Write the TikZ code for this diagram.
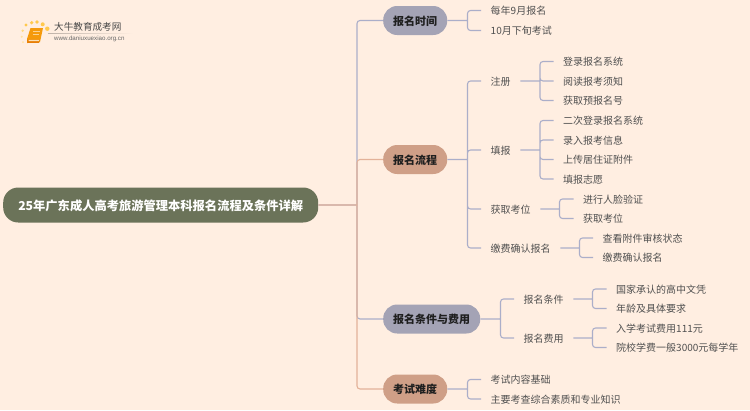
\documentclass[tikz,border=0pt]{standalone}
\usepackage{fontspec}
\setmainfont{Noto Sans CJK SC}
\newfontfamily\latinurl{Liberation Sans}
\definecolor{bgc}{HTML}{FFEEE1}
\definecolor{rootc}{HTML}{6B7359}
\definecolor{lilacc}{HTML}{A4A3B5}
\definecolor{salmonc}{HTML}{CF9F87}
\definecolor{lilacl}{HTML}{ABAEC9}
\definecolor{salmonl}{HTML}{E3B299}
\definecolor{txtc}{HTML}{505050}
\definecolor{bookc}{HTML}{F59A0C}
\definecolor{bookd}{HTML}{E87E04}
\tikzset{
  rootnode/.style={fill=rootc,text=white,rounded corners=15pt,minimum height=35pt,minimum width=315pt,inner sep=0pt,text height=11.2pt,text depth=1.1pt,font=\fontsize{12.27}{15}\selectfont\bfseries,anchor=west},
  topic/.style={rounded corners=14pt,minimum height=29pt,inner xsep=0pt,inner ysep=0pt,text height=10.3pt,text depth=.7pt,font=\fontsize{11}{13}\selectfont\bfseries,text=black!88,anchor=west},
  leaf/.style={inner xsep=9.5pt,inner ysep=1pt,text height=9.4pt,text depth=.6pt,font=\fontsize{10}{12}\selectfont,text=txtc,anchor=west},
  lil/.style={draw=lilacl,line width=1.1pt,rounded corners=3pt},
  sal/.style={draw=salmonl,line width=1.1pt,rounded corners=3pt}
}
% parent, x of the vertical, style, children: one path, so that the shared stub is painted once
\newcommand{\fanout}[4]{\coordinate (vv) at (#2,0);\draw[#3] (#1.east) -- (#1.east -| vv) foreach \k in {#4}{ (#1.east -| vv) |- (\k.west) };}
\begin{document}
\begin{tikzpicture}[x=1pt,y=-1pt]
\useasboundingbox[fill=bgc] (0,0) rectangle (750,410);
% logo
\foreach \p/\q/\r/\c in {26/25/1.6/FFC94D,31.7/22.7/1.8/FFC94D,37/22/1.9/FFC94D,42.7/24.3/2/FFC94D,47.3/28.7/2.2/FFC94D,22.7/30.7/1.3/FFD97F,21.7/36.7/1.1/FFE2A0,23/42/1/FFE2A0}{
  \definecolor{tmpc}{HTML}{\c}\fill[tmpc] (\p,\q) circle (\r);}
\fill[bookc] (30.5,28) -- (43,28) -- (40,42) .. controls (38,43) and (33,43) .. (27,43) -- (27,39) -- cycle;
\fill[bookd] (27,39.5) -- (39.5,39.5) -- (39,42.8) -- (27.5,42.8) -- cycle;
\fill[white!70!bookc] (28.5,39.8) -- (39,39.8) -- (38.8,41) -- (28.5,41) -- cycle;
\draw[white!55!bookc,line width=.6pt] (33,31.5) -- (40,31.5) (32.5,34.5) -- (39,34.5);
\node[inner sep=0pt,anchor=west,text=black!72,font=\fontsize{9.6}{11}\selectfont] (logot) at (54,27) {大牛教育成考网};
\node[inner sep=0pt,anchor=west,text=black!60,font=\fontsize{6.2}{7}\latinurl] (logou) at (54,38.7) {www.daniuxuexiao.org.cn};
\shade[left color=black!25!bgc,right color=bgc] (48,33) rectangle (133,33.6);
% root and topics
\node[rootnode] (root) at (3,205) {25年广东成人高考旅游管理本科报名流程及条件详解};
\node[topic,fill=lilacc,minimum width=64pt] (a) at (383,20.5) {报名时间};
\node[topic,fill=salmonc,minimum width=64pt] (b) at (383,159.5) {报名流程};
\node[topic,fill=lilacc,minimum width=97pt] (c) at (383,319) {报名条件与费用};
\node[topic,fill=salmonc,minimum width=64pt] (d) at (383,389) {考试难度};
% leaves
\node[leaf] (a1) at (481,10.5) {每年9月报名};
\node[leaf] (a2) at (481,30.5) {10月下旬考试};
\node[leaf] (b1) at (481,81) {注册};
\node[leaf] (b2) at (481,150) {填报};
\node[leaf] (b3) at (481,209) {获取考位};
\node[leaf] (b4) at (481,248) {缴费确认报名};
\node[leaf] (b11) at (553.5,61.5) {登录报名系统};
\node[leaf] (b12) at (553.5,81) {阅读报考须知};
\node[leaf] (b13) at (553.5,100.5) {获取预报名号};
\node[leaf] (b21) at (553.5,120.5) {二次登录报名系统};
\node[leaf] (b22) at (553.5,140) {录入报考信息};
\node[leaf] (b23) at (553.5,159.5) {上传居住证附件};
\node[leaf] (b24) at (553.5,179) {填报志愿};
\node[leaf] (b31) at (573.5,199) {进行人脸验证};
\node[leaf] (b32) at (573.5,218.5) {获取考位};
\node[leaf] (b41) at (593,238) {查看附件审核状态};
\node[leaf] (b42) at (593,257.5) {缴费确认报名};
\node[leaf] (c1) at (514,299) {报名条件};
\node[leaf] (c2) at (514,338) {报名费用};
\node[leaf] (c11) at (606.5,289) {国家承认的高中文凭};
\node[leaf] (c12) at (606.5,308.5) {年龄及具体要求};
\node[leaf] (c21) at (606.5,328) {入学考试费用111元};
\node[leaf] (c22) at (606.5,347.5) {院校学费一般3000元每学年};
\node[leaf] (d1) at (481,379.5) {考试内容基础};
\node[leaf] (d2) at (481,399) {主要考查综合素质和专业知识};
% trunk connectors: lilac below salmon, as in the reference
\fanout{root}{357}{lil}{a,c}
\fanout{root}{357}{sal}{b,d}
% level connectors
\fanout{a}{467.5}{lil}{a1,a2}
\fanout{b}{467.5}{lil}{b1,b2,b3,b4}
\fanout{b1}{540}{lil}{b11,b12,b13}
\fanout{b2}{540}{lil}{b21,b22,b23,b24}
\fanout{b3}{559.5}{lil}{b31,b32}
\fanout{b4}{579.5}{lil}{b41,b42}
\fanout{c}{500.5}{lil}{c1,c2}
\fanout{c1}{592.5}{lil}{c11,c12}
\fanout{c2}{592.5}{lil}{c21,c22}
\fanout{d}{467.5}{lil}{d1,d2}
\end{tikzpicture}
\end{document}
